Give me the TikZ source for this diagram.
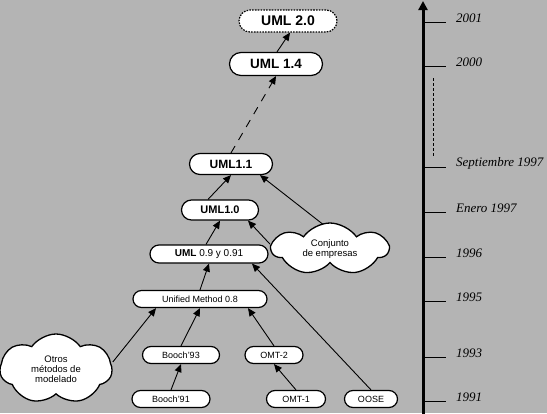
\documentclass[tikz,border=0pt]{standalone}
\usepackage{fontspec}
\setmainfont{Liberation Serif}
\setsansfont{Liberation Sans}
\usetikzlibrary{arrows.meta,shapes.misc,shapes.symbols}
\definecolor{bg}{RGB}{180,180,180}
\tikzset{
  ver/.style={rounded rectangle, draw=black, line width=1.2pt, fill=white, inner sep=0pt,
    font=\sffamily\fontsize{9}{10}\selectfont},
  nube/.style={cloud, cloud puffs=7, cloud puff arc=110, cloud ignores aspect, draw=black, line width=1.3pt, fill=white,
    inner sep=0pt, align=center, font=\sffamily\fontsize{9.5}{10}\selectfont},
  arr/.style={line width=0.9pt, -{Triangle[length=8pt,width=7pt]}},
  tickln/.style={line width=0.8pt},
  yearlbl/.style={anchor=west, inner sep=0pt, font=\itshape\fontsize{13}{15}\selectfont}
}
\begin{document}
\begin{tikzpicture}[x=1pt,y=-1pt]
\fill[bg] (0,0) rectangle (547,413);
\useasboundingbox (0,0) rectangle (547,413);

% nodes
\node[ver, minimum width=98pt, minimum height=22pt, dash pattern=on 1.6pt off 1.2pt,
  font=\sffamily\bfseries\fontsize{14}{16}\selectfont] (u20) at (288,21) {UML 2.0};
\node[ver, minimum width=93pt, minimum height=23pt,
  font=\sffamily\bfseries\fontsize{13.5}{16}\selectfont] (u14) at (276,64) {UML 1.4};
\node[ver, minimum width=83pt, minimum height=21pt,
  font=\sffamily\bfseries\fontsize{12}{14}\selectfont] (u11) at (231,164) {UML1.1};
\node[ver, minimum width=77pt, minimum height=20pt,
  font=\sffamily\bfseries\fontsize{11}{13}\selectfont] (u10) at (220,210) {UML1.0};
\node[ver, minimum width=118pt, minimum height=18pt,
  font=\sffamily\fontsize{10}{12}\selectfont] (u09) at (209,254) {\textbf{UML} 0.9 y 0.91};
\node[ver, minimum width=134pt, minimum height=17pt] (u08) at (200,299) {Unified Method 0.8};
\node[ver, minimum width=77pt, minimum height=17pt] (b93) at (181,355) {Booch'93};
\node[ver, minimum width=58pt, minimum height=17pt] (omt2) at (274,355) {OMT-2};
\node[ver, minimum width=78pt, minimum height=17pt] (b91) at (171,399) {Booch'91};
\node[ver, minimum width=59pt, minimum height=17pt] (omt1) at (296,399) {OMT-1};
\node[ver, minimum width=53pt, minimum height=17pt] (oose) at (371,399) {OOSE};
\node[nube, minimum width=112pt, minimum height=70pt] (otros) at (56,369) {Otros\\métodos de\\modelado};
\node[nube, minimum width=116pt, minimum height=52pt] (emp) at (330,249) {Conjunto\\de empresas};

% connectors
\draw[arr] ([xshift=1pt]u14.north) -- ([xshift=2pt]u20.south);
\draw[arr, dash pattern=on 8pt off 7pt] (u11.north) -- (u14.south);
\draw[arr] ([xshift=-12pt]u10.north) -- (u11.south);
\draw[arr] ([xshift=-7pt,yshift=-2pt]emp.north) -- ([xshift=29pt]u11.south);
\draw[arr] ([yshift=5pt]emp.west) -- ([xshift=28pt]u10.south);
\draw[arr] ([xshift=-3pt]u09.north) -- (u10.south);
\draw[arr] (u08.north) -- (u09.south);
\draw[arr] (oose.north) -- ([xshift=43pt]u09.south);
\draw[arr] ([yshift=7pt]otros.east) -- ([xshift=-44pt]u08.south);
\draw[arr] (b93.north) -- (u08.south);
\draw[arr] (omt2.north) -- ([xshift=48pt]u08.south);
\draw[arr] (b91.north) -- (b93.south);
\draw[arr] (omt1.north) -- (omt2.south);

% time axis
\coordinate (axb) at (423,414);
\coordinate (axt) at (423,1);
\draw[line width=3pt, -{Triangle[length=9pt,width=9pt]}] (axb) -- (axt);
\foreach \yy/\lab in {22/2001, 66/2000, 167/Septiembre 1997, 212/Enero 1997, 257/1996, 301/1995, 357/1993, 401/1991}{
  \draw[tickln] (423,\yy) -- (446,\yy);
  \node[yearlbl] at (456,\yy-4) {\lab};
}
\draw[line width=0.7pt, dash pattern=on 3pt off 2pt] (433,78) -- (433,156);
\end{tikzpicture}
\end{document}
